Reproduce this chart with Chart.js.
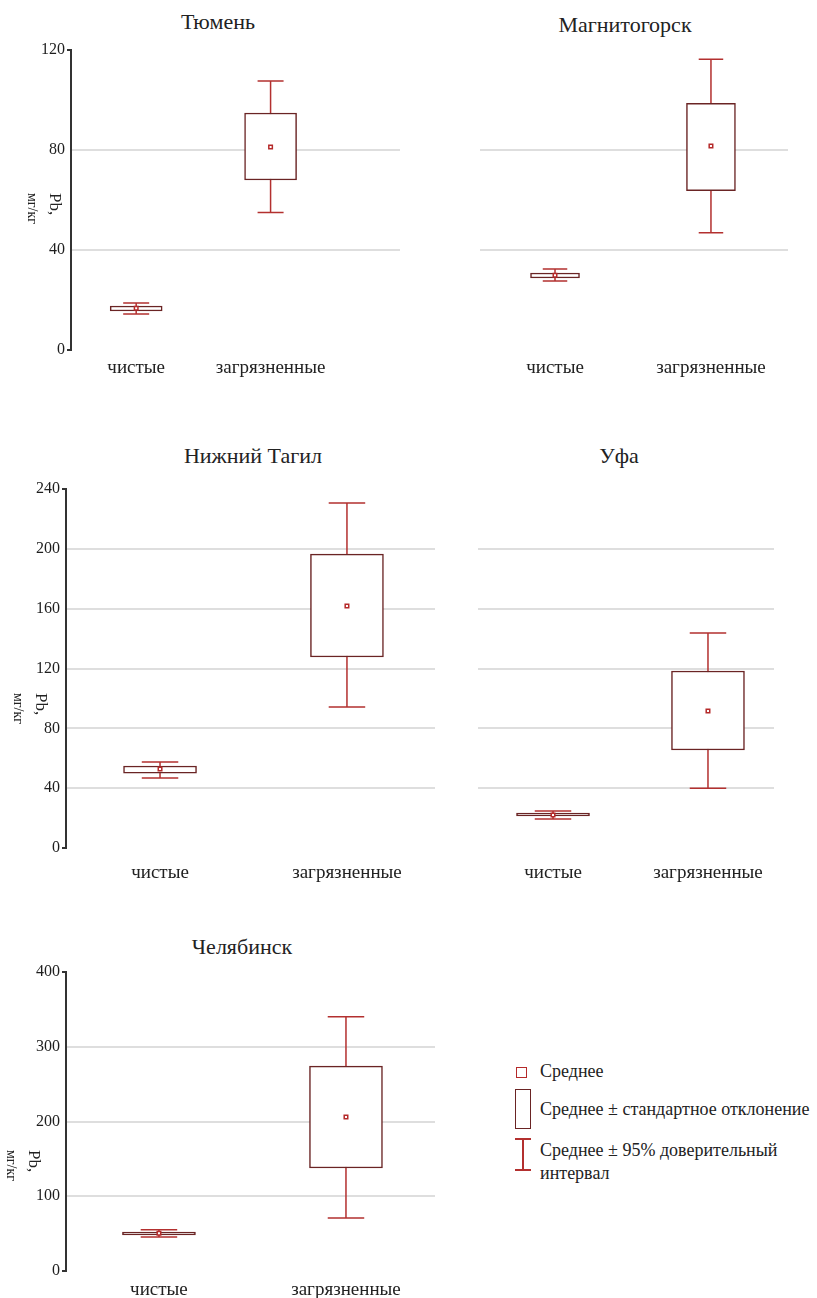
<!DOCTYPE html>
<html>
<head>
<meta charset="utf-8">
<script src="https://cdn.jsdelivr.net/npm/chart.js@4.4.1/dist/chart.umd.min.js"></script>
<style>
  body { margin: 0; background: #fff; width: 817px; height: 1298px; position: relative; overflow: hidden;
         font-family: "Liberation Serif", "Times New Roman", serif; color: #222; }
  .wrap { position: absolute; }
  .title { position: absolute; font-size: 22px; transform: translate(-50%, -50%); white-space: nowrap; }
  .ytitle { position: absolute; writing-mode: vertical-rl; line-height: 23px; font-size: 17px; white-space: nowrap; }
  .ytitle .u { font-size: 14px; }
  .lg { position: absolute; font-size: 18px; white-space: nowrap; }
  .ic { position: absolute; box-sizing: border-box; }
</style>
</head>
<body>

<script>
// categories and cities
const categories = ['чистые', 'загрязненные'];
const cities = ['Тюмень', 'Магнитогорск', 'Нижний Тагил', 'Уфа', 'Челябинск'];

// Pb, mg/kg: [чистые, загрязненные] for each city
const means  = [[16.7, 81.2], [29.9, 81.6], [52.8, 161.8], [22.1, 91.6], [50.4, 206]];
const sdLow  = [[15.6, 68.0], [28.8, 63.7], [50.1, 127.7], [21.4, 65.5], [48.2, 137.8]];
const sdHigh = [[17.6, 94.8], [30.8, 98.7], [54.8, 196.5], [23.4, 118.3], [52.2, 274]];
const ciLow  = [[14.4, 55.0], [27.6, 46.9], [46.8, 94.3], [19.4, 40.0], [45.5, 71]];
const ciHigh = [[18.8, 107.6], [32.4, 116.3], [57.5, 230.6], [24.7, 143.7], [55.3, 340]];

// y axis ticks
const yMax  = [120, 120, 240, 240, 400];
const yStep = [40, 40, 40, 40, 100];

// layout of the five panels (pixel boxes of the plot areas)
const panels = [
  { L: 71,  R: 400, T: 50,  B: 350,  xMin: 0.515, xMax: 2.963, axis: true,  bar: 52, lp: 7,  title: [218, 22],  ytitle: [21, 193] },
  { L: 480, R: 788, T: 50,  B: 350,  xMin: 0.519, xMax: 2.494, axis: false, bar: 49, lp: 7,  title: [625, 25] },
  { L: 66,  R: 435, T: 489, B: 848,  xMin: 0.497, xMax: 2.471, axis: true,  bar: 73, lp: 14, title: [253, 456], ytitle: [7, 693] },
  { L: 478, R: 774, T: 489, B: 848,  xMin: 0.516, xMax: 2.426, axis: false, bar: 73, lp: 14, title: [619, 456] },
  { L: 66,  R: 435, T: 972, B: 1271, xMin: 0.503, xMax: 2.476, axis: true,  bar: 73, lp: 8,  title: [242, 947], ytitle: [0, 1150] }
];

const AX = 50, PT = 12, XH = 36, PR = 6;
const FONT = '"Liberation Serif", "Times New Roman", serif';
const BOX_COLOR = '#6a2424';
const CI_COLOR = '#b3302f';
const MEAN_COLOR = '#b52a2a';

// whiskers for the 95% interval
const whiskerPlugin = {
  id: 'whiskers',
  beforeDatasetsDraw(chart, args, opts) {
    const { ctx, scales: { x, y } } = chart;
    ctx.save();
    ctx.strokeStyle = CI_COLOR;
    ctx.lineWidth = 1.5;
    opts.lo.forEach((lo, j) => {
      const px = x.getPixelForValue(j + 1);
      const y1 = y.getPixelForValue(lo);
      const y2 = y.getPixelForValue(opts.hi[j]);
      const h = opts.cap / 2;
      ctx.beginPath();
      ctx.moveTo(px, y1); ctx.lineTo(px, y2);
      ctx.moveTo(px - h, y1); ctx.lineTo(px + h, y1);
      ctx.moveTo(px - h, y2); ctx.lineTo(px + h, y2);
      ctx.stroke();
    });
    ctx.restore();
  }
};

function addDiv(cls, html, style) {
  const d = document.createElement('div');
  d.className = cls;
  d.innerHTML = html;
  Object.assign(d.style, style);
  document.body.appendChild(d);
  return d;
}

panels.forEach((p, i) => {
  const left = p.L - (p.axis ? AX : 0);
  const top = p.T - PT;
  const w = p.R + PR - left;
  const h = p.B - p.T + PT + XH;
  const wrap = addDiv('wrap', '', { left: left + 'px', top: top + 'px', width: w + 'px', height: h + 'px' });
  const cv = document.createElement('canvas');
  wrap.appendChild(cv);

  const max = yMax[i];
  new Chart(cv, {
    type: 'bar',
    data: {
      datasets: [
        {
          type: 'line',
          data: means[i].map((m, j) => ({ x: j + 1, y: m })),
          showLine: false,
          pointStyle: 'rect',
          pointRadius: 2.5,
          pointBorderWidth: 1.5,
          pointBorderColor: MEAN_COLOR,
          pointBackgroundColor: '#fff',
          order: 0
        },
        {
          data: sdLow[i].map((lo, j) => ({ x: j + 1, y: [lo, sdHigh[i][j]] })),
          backgroundColor: '#fff',
          borderColor: BOX_COLOR,
          borderWidth: 1.5,
          borderSkipped: false,
          barThickness: p.bar,
          order: 1
        }
      ]
    },
    options: {
      responsive: true,
      maintainAspectRatio: false,
      animation: false,
      layout: { autoPadding: false, padding: { top: PT, right: PR, left: 0, bottom: 0 } },
      plugins: {
        legend: { display: false },
        tooltip: { enabled: false },
        whiskers: { lo: ciLow[i], hi: ciHigh[i], cap: p.bar / 2 }
      },
      scales: {
        x: {
          type: 'linear',
          min: p.xMin,
          max: p.xMax,
          offset: false,
          grid: { display: false, drawTicks: false, offset: false },
          border: { display: false },
          afterBuildTicks: s => { s.ticks = [{ value: 1 }, { value: 2 }]; },
          afterFit: s => { s.height = XH; },
          ticks: {
            callback: v => categories[v - 1],
            font: { family: FONT, size: 19 },
            color: '#222',
            padding: p.lp,
            maxRotation: 0,
            autoSkip: false
          }
        },
        y: {
          min: 0,
          max: max,
          afterFit: s => { s.width = p.axis ? AX : 0; },
          ticks: {
            display: p.axis,
            stepSize: yStep[i],
            font: { family: FONT, size: 16 },
            color: '#1e1e1e',
            padding: 2
          },
          grid: {
            color: c => (c.tick.value === 0 || c.tick.value === max) ? 'rgba(0,0,0,0)' : '#dedede',
            lineWidth: 2,
            drawTicks: p.axis,
            tickLength: 4,
            tickColor: c => (c.tick.value === 0 || c.tick.value === max) ? '#333' : 'rgba(0,0,0,0)'
          },
          border: { display: p.axis, color: '#333', width: 2 }
        }
      }
    },
    plugins: [whiskerPlugin]
  });

  addDiv('title', cities[i], { left: p.title[0] + 'px', top: p.title[1] + 'px' });
  if (p.ytitle) {
    addDiv('ytitle', 'Pb,<br><span class="u">мг/кг</span>', { left: p.ytitle[0] + 'px', top: p.ytitle[1] + 'px' });
  }
});

// legend
addDiv('ic', '', { left: '516px', top: '1067px', width: '11px', height: '11px', border: '1.5px solid ' + MEAN_COLOR });
addDiv('ic', '', { left: '515px', top: '1089px', width: '16px', height: '40px', border: '1.5px solid ' + BOX_COLOR });
addDiv('ic', '', { left: '522px', top: '1138px', width: '1.5px', height: '32px', background: CI_COLOR });
addDiv('ic', '', { left: '515px', top: '1138px', width: '16px', height: '1.5px', background: CI_COLOR });
addDiv('ic', '', { left: '515px', top: '1169px', width: '16px', height: '1.5px', background: CI_COLOR });
addDiv('lg', 'Среднее', { left: '540px', top: '1061px' });
addDiv('lg', 'Среднее ± стандартное отклонение', { left: '540px', top: '1099px' });
addDiv('lg', 'Среднее ± 95% доверительный', { left: '540px', top: '1140px' });
addDiv('lg', 'интервал', { left: '540px', top: '1163px' });
</script>
</body>
</html>
